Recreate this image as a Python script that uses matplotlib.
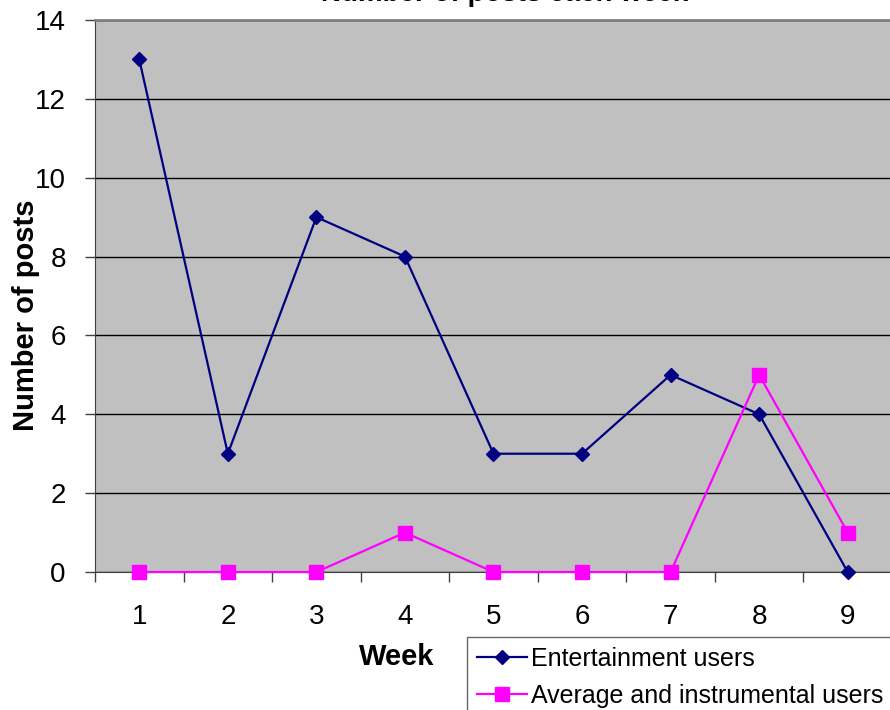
import matplotlib.pyplot as plt

plt.rcParams['font.family'] = ['Liberation Sans', 'DejaVu Sans']

# Posts per week for each user group
weeks = ['1', '2', '3', '4', '5', '6', '7', '8', '9']
entertainment = [13, 3, 9, 8, 3, 3, 5, 4, 0]
average_instrumental = [0, 0, 0, 1, 0, 0, 0, 5, 1]

fig = plt.figure(figsize=(8.9, 7.1), dpi=100)
ax = fig.add_axes([95 / 890, 138 / 710, 797 / 890, 552 / 710])
ax.set_facecolor('#c0c0c0')

x = list(range(1, len(weeks) + 1))
ax.plot(x, entertainment, color='#000080', marker='D', markersize=7,
        linewidth=1.6, label='Entertainment users', clip_on=False, zorder=3)
ax.plot(x, average_instrumental, color='#ff00ff', marker='s', markersize=10,
        linewidth=1.6, label='Average and instrumental users', clip_on=False, zorder=3)

ax.set_xlim(0.5, len(weeks) + 0.5)
ax.set_ylim(0, 14)
ax.set_yticks(range(0, 15, 2))
ax.set_xticks(x)
ax.set_xticklabels(weeks)
ax.set_xticks([i + 0.5 for i in range(0, len(weeks) + 1)], minor=True)
ax.tick_params(axis='x', which='major', length=0, pad=23, labelsize=20)
ax.tick_params(axis='x', which='minor', length=7, width=1, color='#404040')
ax.tick_params(axis='y', length=7, width=1, color='#404040', pad=14, labelsize=20)

ax.yaxis.grid(True, color='black', linewidth=1)
ax.set_axisbelow(True)

ax.spines['top'].set_color('#808080')
ax.spines['top'].set_linewidth(2)
ax.spines['right'].set_visible(False)
ax.spines['left'].set_color('#404040')
ax.spines['bottom'].set_color('#404040')

ax.set_xlabel('Week', fontsize=21, fontweight='bold')
ax.xaxis.set_label_coords(397 / 890, 53 / 710, transform=fig.transFigure)
ax.xaxis.label.set_verticalalignment('center')
ax.set_ylabel('Number of posts', fontsize=21, fontweight='bold')
ax.yaxis.set_label_coords(26 / 890, 395 / 710, transform=fig.transFigure)
ax.yaxis.label.set_verticalalignment('center')

fig.text(505 / 890, 709 / 710, 'Number of posts each week', ha='center',
         va='baseline', fontsize=20, fontweight='bold')

leg = fig.legend(loc='upper left', bbox_to_anchor=(467 / 890, 73 / 710),
                 fontsize=18, frameon=True, fancybox=False, borderaxespad=0,
                 handlelength=2.0, handletextpad=0.15, labelspacing=0.5,
                 borderpad=0.4)
leg.get_frame().set_edgecolor('#404040')
leg.get_frame().set_linewidth(1)

fig.savefig('out.png', dpi=100)
